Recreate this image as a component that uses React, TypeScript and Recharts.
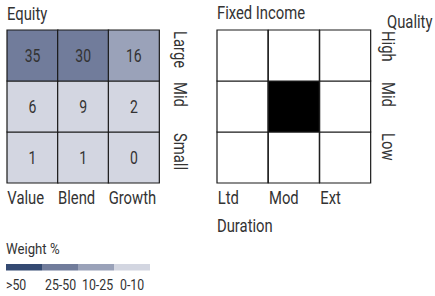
import React from "react";
import { BarChart, Bar, XAxis, YAxis, Cell, LabelList } from "recharts";

const FONT = "Roboto, 'Liberation Sans', sans-serif";
const TEXT = "#333";

// equity style box
const styleLabels = ["Value", "Blend", "Growth"];
const sizeLabels = ["Large", "Mid", "Small"];
const largeWeights = [35, 30, 16];
const midWeights = [6, 9, 2];
const smallWeights = [1, 1, 0];

// fixed income style box (1 = the highlighted cell)
const durationLabels = ["Ltd", "Mod", "Ext"];
const qualityLabels = ["High", "Mid", "Low"];
const fiHigh = [0, 0, 0];
const fiMid = [0, 1, 0];
const fiLow = [0, 0, 0];

// legend
const weightBins = [">50", "25-50", "10-25", "0-10"];
const binColors = ["#344a72", "#717c9b", "#9aa2b9", "#d3d6e1"];
const legendLabelX = [6, 45, 82, 120];

function binColor(w: number) {
  if (w > 50) return binColors[0];
  if (w >= 25) return binColors[1];
  if (w >= 10) return binColors[2];
  return binColors[3];
}

const equityRows = styleLabels.map((name, i) => ({
  name,
  small: 1,
  mid: 1,
  large: 1,
  smallW: smallWeights[i],
  midW: midWeights[i],
  largeW: largeWeights[i],
}));

const fiRows = durationLabels.map((name, i) => ({
  name,
  low: 1,
  mid: 1,
  high: 1,
  lowOn: fiLow[i],
  midOn: fiMid[i],
  highOn: fiHigh[i],
}));

// condensed text: a normal face squeezed along the text direction
function CText(props: any) {
  const { x, y, size = 19, sx = 0.78, anchor = "start", rotate = 0, children } = props;
  return (
    <text
      transform={`translate(${x} ${y}) rotate(${rotate}) scale(${sx} 1)`}
      fontSize={size}
      textAnchor={anchor}
      fill={TEXT}
      fontFamily={FONT}
    >
      {children}
    </text>
  );
}

function ColTick(props: any) {
  const { x, y, payload, dx } = props;
  return (
    <CText x={x + dx} y={y + 13}>
      {payload.value}
    </CText>
  );
}

function RowTick(props: any) {
  const { x, y, payload, labels, dx } = props;
  return (
    <CText x={x + dx} y={y + 1} rotate={90}>
      {labels[3 - payload.value]}
    </CText>
  );
}

function CellValue(props: any) {
  const { x, y, width, height, value } = props;
  return (
    <CText x={x + width / 2} y={y + height / 2 + 6.2} size={17.5} sx={0.8} anchor="middle">
      {value}
    </CText>
  );
}

function EquityBox() {
  const keys = ["small", "mid", "large"];
  return (
    <BarChart
      width={200}
      height={215}
      data={equityRows}
      margin={{ top: 30, right: 0, bottom: 0, left: 7 }}
      barCategoryGap={0}
      barGap={0}
    >
      <XAxis
        dataKey="name"
        height={32}
        axisLine={false}
        tickLine={false}
        interval={0}
        tick={(p: any) => <ColTick {...p} dx={-25} />}
      />
      <YAxis
        type="number"
        orientation="right"
        width={41}
        domain={[0, 3]}
        ticks={[3, 2, 1]}
        interval={0}
        axisLine={false}
        tickLine={false}
        tick={(p: any) => <RowTick {...p} labels={sizeLabels} dx={7} />}
      />
      {keys.map((k) => (
        <Bar
          key={k}
          dataKey={k}
          stackId="eq"
          isAnimationActive={false}
          stroke="#1a1a1a"
          strokeWidth={1.2}
        >
          {equityRows.map((r: any, i) => (
            <Cell key={i} fill={binColor(r[k + "W"])} />
          ))}
          <LabelList dataKey={k + "W"} content={<CellValue />} />
        </Bar>
      ))}
    </BarChart>
  );
}

function FixedIncomeBox() {
  const keys = ["low", "mid", "high"];
  return (
    <BarChart
      width={225}
      height={215}
      data={fiRows}
      margin={{ top: 30, right: 0, bottom: 0, left: 7 }}
      barCategoryGap={0}
      barGap={0}
    >
      <XAxis
        dataKey="name"
        height={32}
        axisLine={false}
        tickLine={false}
        interval={0}
        tick={(p: any) => <ColTick {...p} dx={-25} />}
      />
      <YAxis
        type="number"
        orientation="right"
        width={64}
        domain={[0, 3]}
        ticks={[3, 2, 1]}
        interval={0}
        axisLine={false}
        tickLine={false}
        tick={(p: any) => <RowTick {...p} labels={qualityLabels} dx={3} />}
      />
      {keys.map((k) => (
        <Bar
          key={k}
          dataKey={k}
          stackId="fi"
          isAnimationActive={false}
          stroke="#1a1a1a"
          strokeWidth={1.2}
        >
          {fiRows.map((r: any, i) => (
            <Cell key={i} fill={r[k + "On"] ? "#000" : "#fff"} />
          ))}
        </Bar>
      ))}
    </BarChart>
  );
}

export default function App() {
  return (
    <div style={{ position: "absolute", left: 0, top: 0, width: 435, height: 296, background: "#fff" }}>
      <div style={{ position: "absolute", left: 0, top: 0 }}>
        <EquityBox />
      </div>
      <div style={{ position: "absolute", left: 210, top: 0 }}>
        <FixedIncomeBox />
      </div>
      <svg
        width={435}
        height={296}
        style={{ position: "absolute", left: 0, top: 0, pointerEvents: "none" }}
      >
        <CText x={7} y={19.5}>Equity</CText>
        <CText x={217} y={19}>Fixed Income</CText>
        <CText x={387} y={27.5}>Quality</CText>
        <CText x={217} y={232}>Duration</CText>
        <CText x={6} y={254} size={15} sx={0.88}>Weight %</CText>
        {binColors.map((c, i) => (
          <rect key={c} x={6 + i * 36} y={264} width={36} height={6.5} fill={c} />
        ))}
        {weightBins.map((b, i) => (
          <CText key={b} x={legendLabelX[i]} y={290} size={14} sx={0.88}>
            {b}
          </CText>
        ))}
      </svg>
    </div>
  );
}
